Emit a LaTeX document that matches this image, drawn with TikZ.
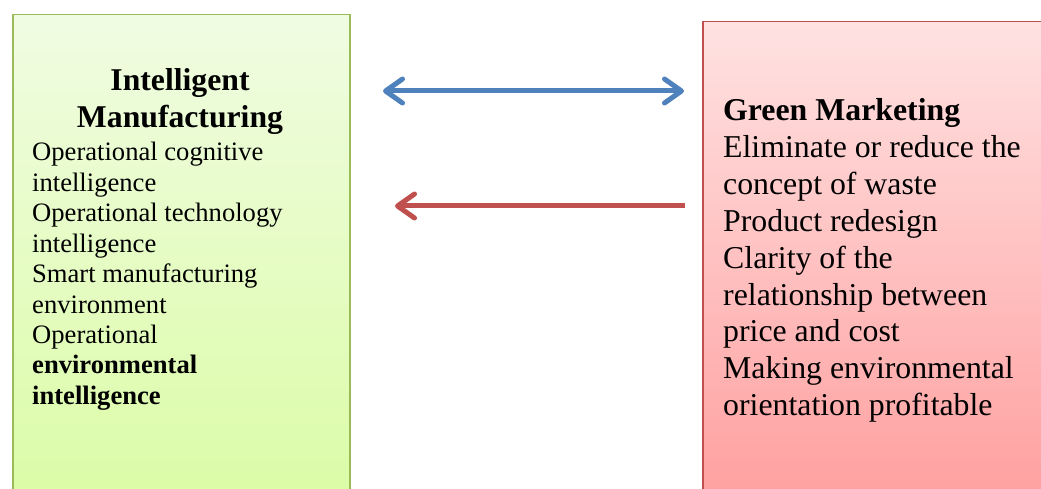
\documentclass[tikz,border=0pt]{standalone}
\usepackage{fontspec}
\setmainfont{Liberation Serif}
\usetikzlibrary{arrows.meta}
\definecolor{gborder}{HTML}{9BBB59}
\definecolor{gtop}{HTML}{F0FCE2}
\definecolor{gbot}{HTML}{DBFCA6}
\definecolor{rborder}{HTML}{C0504D}
\definecolor{rtop}{HTML}{FFE2E2}
\definecolor{rbot}{HTML}{FF9E9E}
\definecolor{barrowc}{HTML}{4F81BD}
\definecolor{rarrowc}{HTML}{C0504D}
\tikzset{
  panel/.style={draw, line width=1.5pt, inner sep=0pt, anchor=north west},
  greenpanel/.style={panel, draw=gborder, top color=gtop, bottom color=gbot},
  redpanel/.style={panel, draw=rborder, top color=rtop, bottom color=rbot},
  bodytext/.style={inner sep=0pt, anchor=base west, font=\fontsize{26.6pt}{30.4pt}\selectfont},
  gtitle/.style={inner sep=0pt, anchor=base, font=\fontsize{31.7pt}{38pt}\selectfont\bfseries},
  redtext/.style={inner sep=0pt, anchor=base west, font=\fontsize{31.8pt}{37pt}\selectfont},
  conn/.style={line width=5pt, line cap=round},
}
\begin{document}
\begin{tikzpicture}[x=1pt,y=-1pt]
\useasboundingbox (0,0) rectangle (1041,489);
\clip (0,0) rectangle (1041,489);
\fill[white] (0,0) rectangle (1041,489);

\node[greenpanel, minimum width=337pt, minimum height=490pt] (green) at (12,14) {};
\node[redpanel, minimum width=350pt, minimum height=490pt] (red) at (702,21) {};

\node[gtitle] (gt1) at (180,91) {Intelligent};
\node[gtitle] (gt2) at (180,128) {Manufacturing};

\node[bodytext] (g1) at (32,161.0) {Operational cognitive};
\node[bodytext] (g2) at (32,191.4) {intelligence};
\node[bodytext] (g3) at (32,221.8) {Operational technology};
\node[bodytext] (g4) at (32,252.2) {intelligence};
\node[bodytext] (g5) at (32,282.6) {Smart manufacturing};
\node[bodytext] (g6) at (32,313.0) {environment};
\node[bodytext] (g7) at (32,343.4) {Operational};
\node[bodytext, font=\fontsize{26.6pt}{30.4pt}\selectfont\bfseries] (g8) at (32,373.8) {environmental};
\node[bodytext, font=\fontsize{26.6pt}{30.4pt}\selectfont\bfseries] (g9) at (32,404.2) {intelligence};

\node[redtext, font=\fontsize{31.8pt}{37pt}\selectfont\bfseries] (r0) at (723,121) {Green Marketing};
\node[redtext] (r1) at (723,157.8) {Eliminate or reduce the};
\node[redtext] (r2) at (723,194.6) {concept of waste};
\node[redtext] (r3) at (723,231.4) {Product redesign};
\node[redtext] (r4) at (723,268.2) {Clarity of the};
\node[redtext] (r5) at (723,305.0) {relationship between};
\node[redtext] (r6) at (723,341.8) {price and cost};
\node[redtext] (r7) at (723,378.6) {Making environmental};
\node[redtext] (r8) at (723,415.4) {orientation profitable};

\coordinate (bl) at (383,91);
\coordinate (br) at (684,91);
\coordinate (rl) at (395,206);
\coordinate (rr) at (685,206);

\draw[conn, draw=barrowc, {Straight Barb[length=17pt,width=24pt,round]}-{Straight Barb[length=17pt,width=24pt,round]}] (bl) -- (br);
\draw[conn, draw=rarrowc, line cap=butt, -{Straight Barb[length=17pt,width=24pt,round]}] (rr) -- (rl);
\end{tikzpicture}
\end{document}
